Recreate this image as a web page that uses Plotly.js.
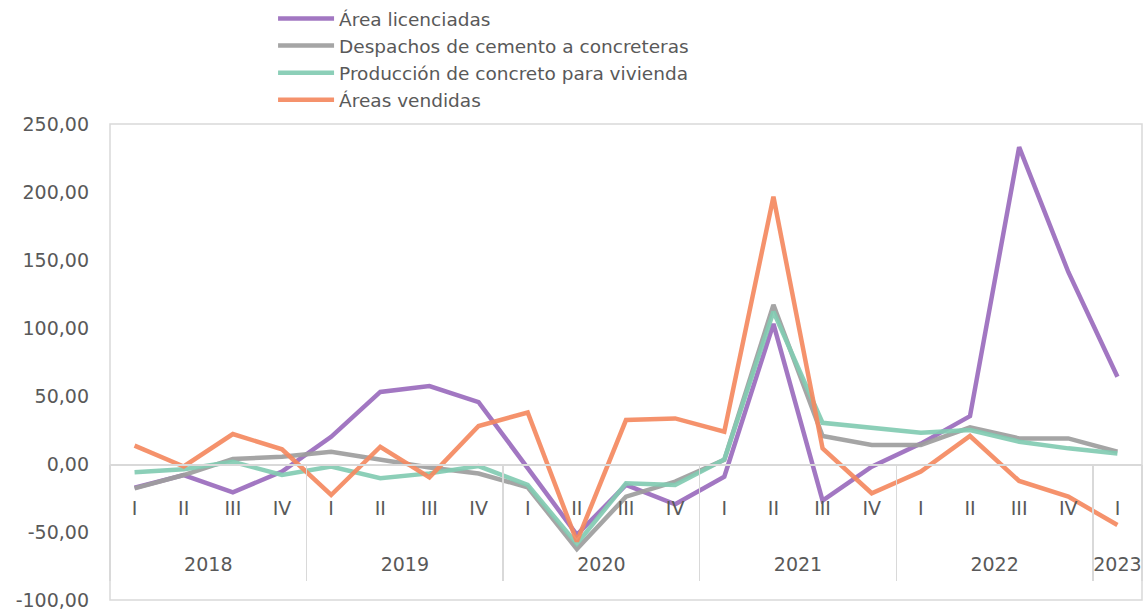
<!DOCTYPE html>
<html>
<head>
<meta charset="utf-8">
<script src="https://cdn.plot.ly/plotly-3.0.1.min.js"></script>
<style>
  html, body { margin: 0; padding: 0; background: #ffffff; }
  #chart { width: 1143px; height: 610px; }
</style>
</head>
<body>
<div id="chart"></div>
<script>
// ---- Data ----
const years = ['2018','2018','2018','2018','2019','2019','2019','2019','2020','2020','2020','2020','2021','2021','2021','2021','2022','2022','2022','2022','2023'];
const quarters = ['I','II','III','IV','I','II','III','IV','I','II','III','IV','I','II','III','IV','I','II','III','IV','I'];

const areaLicenciadas = [-17.5, -8.1, -20.8, -5.6, 20.0, 53.0, 57.3, 45.5, -3.0, -52.0, -15.4, -29.6, -9.3, 103.0, -27.0, -2.0, 15.0, 35.2, 233.0, 141.2, 64.1];
const despachosCemento = [-17.9, -8.1, 3.7, 5.4, 9.0, 3.4, -2.5, -7.0, -17.1, -62.6, -24.0, -13.0, 3.0, 117.0, 20.6, 14.0, 14.0, 26.9, 18.8, 18.8, 9.0];
const produccionConcreto = [-6.1, -3.9, 1.6, -8.1, -1.9, -10.5, -6.9, -1.5, -15.4, -58.7, -14.2, -15.4, 3.4, 112.0, 30.3, 26.7, 23.0, 25.0, 16.4, 11.5, 7.8];
const areasVendidas = [13.5, -1.8, 22.0, 10.8, -22.8, 12.7, -9.8, 27.9, 37.9, -57.0, 32.3, 33.5, 23.7, 196.5, 11.5, -21.5, -5.6, 20.6, -12.5, -24.0, -44.8];

const seriesNames = ['Área licenciadas', 'Despachos de cemento a concreteras', 'Producción de concreto para vivienda', 'Áreas vendidas'];
const seriesColors = ['#9a6bbd', '#9d9d9d', '#82cbb2', '#f4895f'];

const yTickVals = [-100, -50, 0, 50, 100, 150, 200, 250];

// ---- Derived ----
const categories = years.map((y, i) => y + ' ' + quarters[i]);
const uniqueYears = [...new Set(years)];
const yearCenters = uniqueYears.map(y => {
  const idx = years.map((v, i) => v === y ? i : -1).filter(i => i >= 0);
  return (idx[0] + idx[idx.length - 1]) / 2;
});
const yearBounds = [-0.5].concat(uniqueYears.map(y => years.lastIndexOf(y) + 0.5));
const yTickText = yTickVals.map(v => v.toFixed(2).replace('.', ','));

const yRange = [-100, 250];
const zeroPos = (0 - yRange[0]) / (yRange[1] - yRange[0]);
const xRange = [-0.5, categories.length - 0.5];

const textColor = '#595959';
const fontFam = '"DejaVu Sans", "Open Sans", sans-serif';

const allSeries = [areaLicenciadas, despachosCemento, produccionConcreto, areasVendidas];
const traces = allSeries.map((vals, k) => ({
  type: 'scatter',
  mode: 'lines',
  x: categories,
  y: vals,
  name: seriesNames[k],
  line: { color: seriesColors[k], width: 4.5, shape: 'linear' },
  opacity: 0.92,
  hoverinfo: 'x+y+name'
}));

const layout = {
  width: 1143,
  height: 610,
  margin: { l: 110, r: 1, t: 123, b: 10 },
  paper_bgcolor: '#ffffff',
  plot_bgcolor: '#ffffff',
  separators: ',.',
  font: { family: fontFam, color: textColor, size: 19 },
  showlegend: true,
  legend: {
    x: 0.158, xanchor: 'left',
    y: 1.258, yanchor: 'top',
    bgcolor: 'rgba(0,0,0,0)',
    font: { family: fontFam, size: 18.5, color: textColor },
    tracegroupgap: 0,
    itemwidth: 56
  },
  xaxis: {
    type: 'category',
    range: xRange,
    anchor: 'free',
    position: zeroPos,
    showline: true,
    linecolor: '#d9d9d9',
    linewidth: 1.5,
    showgrid: false,
    zeroline: false,
    ticks: '',
    tickmode: 'array',
    tickvals: categories,
    ticktext: quarters,
    ticklabelstandoff: 27,
    tickfont: { family: fontFam, size: 19, color: textColor },
    fixedrange: true
  },
  xaxis2: {
    type: 'linear',
    overlaying: 'x',
    range: xRange,
    anchor: 'free',
    position: zeroPos,
    showline: false,
    showgrid: false,
    zeroline: false,
    ticks: '',
    tickmode: 'array',
    tickvals: yearCenters,
    ticktext: uniqueYears,
    ticklabelstandoff: 87,
    ticklabeloverflow: 'allow',
    tickfont: { family: fontFam, size: 19, color: textColor },
    fixedrange: true
  },
  xaxis3: {
    type: 'linear',
    overlaying: 'x',
    range: xRange,
    anchor: 'free',
    position: zeroPos,
    showline: false,
    showgrid: false,
    zeroline: false,
    ticks: 'outside',
    ticklen: 116,
    tickwidth: 1.5,
    tickcolor: '#d9d9d9',
    tickmode: 'array',
    tickvals: yearBounds,
    showticklabels: false,
    fixedrange: true
  },
  yaxis: {
    range: yRange,
    tickmode: 'array',
    tickvals: yTickVals,
    ticktext: yTickText,
    showgrid: false,
    zeroline: false,
    showline: false,
    ticks: '',
    ticklabelstandoff: 20,
    ticklabeloverflow: 'allow',
    tickfont: { family: fontFam, size: 19, color: textColor },
    fixedrange: true
  },
  shapes: [{
    type: 'rect', xref: 'paper', yref: 'paper',
    x0: 0, x1: 1, y0: 0, y1: 1,
    line: { color: '#d9d9d9', width: 1.5 },
    fillcolor: 'rgba(0,0,0,0)',
    layer: 'below'
  }]
};

// invisible helper traces so the overlaying axes are drawn
traces.push({ type: 'scatter', x: [xRange[0]], y: [0], xaxis: 'x2', mode: 'markers', marker: { opacity: 0 }, showlegend: false, hoverinfo: 'skip' });
traces.push({ type: 'scatter', x: [xRange[0]], y: [0], xaxis: 'x3', mode: 'markers', marker: { opacity: 0 }, showlegend: false, hoverinfo: 'skip' });

Plotly.newPlot('chart', traces, layout, { displayModeBar: false, staticPlot: true });
</script>
</body>
</html>
